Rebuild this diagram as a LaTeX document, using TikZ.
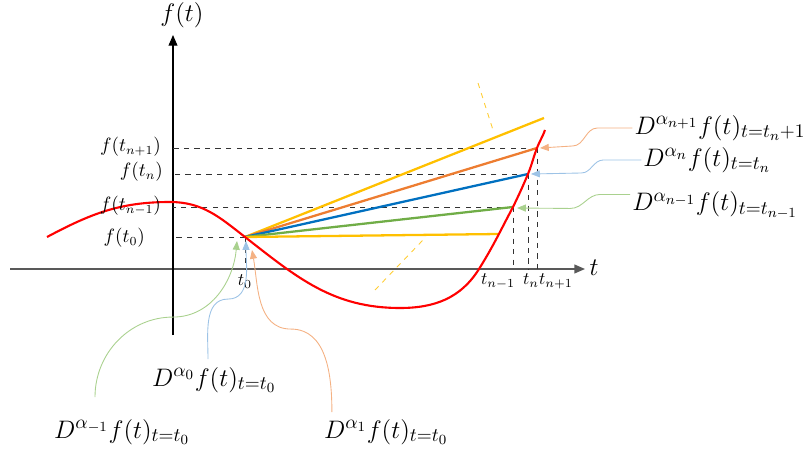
\documentclass[tikz,border=0pt]{standalone}
\usepackage{amsmath}
\usepackage{amssymb}
\usepackage{tikz}
\usetikzlibrary{arrows.meta,positioning}

\definecolor{fred}{RGB}{255,0,0}
\definecolor{slyellow}{RGB}{255,192,0}
\definecolor{slorange}{RGB}{237,125,49}
\definecolor{slblue}{RGB}{0,112,192}
\definecolor{slgreen}{RGB}{112,173,71}
\definecolor{clorange}{RGB}{244,177,131}
\definecolor{clblue}{RGB}{157,195,230}
\definecolor{clgreen}{RGB}{169,209,142}

\begin{document}
\begin{tikzpicture}[
    x=0.02cm, y=-0.02cm,
    axis/.style={line width=0.8pt, -{Triangle[length=6pt,width=5pt]}},
    guide/.style={dashed, line width=0.5pt, black!80},
    slope/.style={line width=1.3pt},
    fcurve/.style={line width=1.2pt, fred},
    callout/.style={line width=0.5pt, -{Triangle[length=5pt,width=4pt]}},
    tick/.style={font=\normalsize, inner sep=1pt},
    flabel/.style={font=\fontsize{10.5}{12}\selectfont, inner sep=1pt},
    dlabel/.style={font=\fontsize{15.5}{18}\selectfont, inner sep=1pt}
]
    \useasboundingbox (0,0) rectangle (805,456);

    % Punktene paa kurven
    \coordinate (o) at (173,269);
    \coordinate (p0) at (245,237);
    \coordinate (pm1) at (513,207);
    \coordinate (pn) at (528,174);
    \coordinate (pp1) at (537,148);
    \coordinate (yup) at (544,118);
    \coordinate (ylow) at (499,234);

    % Aksene
    \draw [axis, black!65] (10,269) -- (585,269);
    \draw [axis, line width=0.6pt] (173,335) -- (173,35);
    \node [font=\fontsize{14}{16}\selectfont] (tax) at (594,268) {$t$};
    \node [font=\fontsize{14}{16}\selectfont] (fax) at (182,15) {$f(t)$};

    % Stiplede hjelpelinjer
    \draw [guide] (p0) -- (o |- p0);
    \draw [guide] (p0) -- (p0 |- o);
    \draw [guide] (pm1) -- (o |- pm1);
    \draw [guide] (pm1) -- (pm1 |- o);
    \draw [guide] (pn) -- (o |- pn);
    \draw [guide] (pn) -- (pn |- o);
    \draw [guide] (pp1) -- (o |- pp1);
    \draw [guide] (pp1) -- (pp1 |- o);

    % Tangentlinjer fra t0
    \draw [slope, slyellow] (p0) -- (yup);
    \draw [slope, slorange] (p0) -- (pp1);
    \draw [slope, slblue] (p0) -- (pn);
    \draw [slope, slgreen] (p0) -- (pm1);
    \draw [slope, slyellow] (p0) -- (ylow);
    \draw [dashed, slyellow!80, line width=0.5pt] (478,83) -- (493,130);
    \draw [dashed, slyellow!80, line width=0.5pt] (375,290) -- (423,240);

    % Funksjonen f(t)
    \draw [fcurve] (47,237) to[out=28,in=180] (170,202) to[out=0,in=142] (p0)
        to[out=-38,in=180] (400,308) to[out=0,in=-122] (479,269)
        to[out=58,in=-118] (pm1) to[out=64,in=-113] (pn)
        to[out=68,in=-111] (pp1) to[out=69,in=-110] (545,130);

    % Merkelapper paa aksene
    \node [flabel, anchor=east] (fp1) at (163,147) {$f(t_{n+1})$};
    \node [flabel, anchor=east] (fn) at (165,172) {$f(t_n)$};
    \node [flabel, anchor=east] (fm1) at (163,206) {$f(t_{n-1})$};
    \node [flabel, anchor=east] (f0) at (147,238) {$f(t_0)$};
    \node [tick, anchor=north] (t0) at ([yshift=-2pt]p0 |- o) {$t_0$};
    \node [tick, anchor=north east] (tm1) at ([shift={(4,3)}]pm1 |- o) {$t_{n-1}$};
    \node [tick, anchor=north] (tn) at ([shift={(3,3)}]pn |- o) {$t_n$};
    \node [tick, anchor=north west] (tp1) at ([shift={(0,3)}]pp1 |- o) {$t_{n+1}$};

    % Forklaringer
    \node [dlabel] (dp1) at (720,128) {$D^{\alpha_{n+1}}f(t)_{t=t_n+1}$};
    \node [dlabel] (dn) at (707,160) {$D^{\alpha_n}f(t)_{t=t_n}$};
    \node [dlabel] (dm1) at (715,205) {$D^{\alpha_{n-1}}f(t)_{t=t_{n-1}}$};
    \node [dlabel] (d0) at (214,380) {$D^{\alpha_0}f(t)_{t=t_0}$};
    \node [dlabel] (dneg) at (122,432) {$D^{\alpha_{-1}}f(t)_{t=t_0}$};
    \node [dlabel] (d1) at (386,432) {$D^{\alpha_1}f(t)_{t=t_0}$};

    \draw [callout, clorange] (dp1.west) -- ++(-35,0) to[out=180,in=0] ++(-25,18) -- ([shift={(3,0)}]pp1);
    \draw [callout, clblue] (dn.west) -- ++(-38,0) to[out=180,in=0] ++(-22,13) -- ([shift={(3,0)}]pn);
    \draw [callout, clgreen] ([yshift=6pt]dm1.west) -- ++(-30,0) to[out=180,in=0] ++(-30,14) -- ([shift={(4,1)}]pm1);
    \draw [callout, clgreen] ([shift={(-27,-20)}]dneg.north) to[out=90,in=180] ++(78,-80) to[out=0,in=-95] ([shift={(-8,4)}]p0);
    \draw [callout, clblue] ([shift={(-6,-6)}]d0.north) to[out=90,in=180] ++(20,-60) to[out=0,in=-90] ([shift={(1,4)}]p0);
    \draw [callout, clorange] ([shift={(10,-5)}]d1.north west) to[out=90,in=0] ++(-41,-83) to[out=180,in=-80] ([shift={(7,13)}]p0);

\end{tikzpicture}
\end{document}
